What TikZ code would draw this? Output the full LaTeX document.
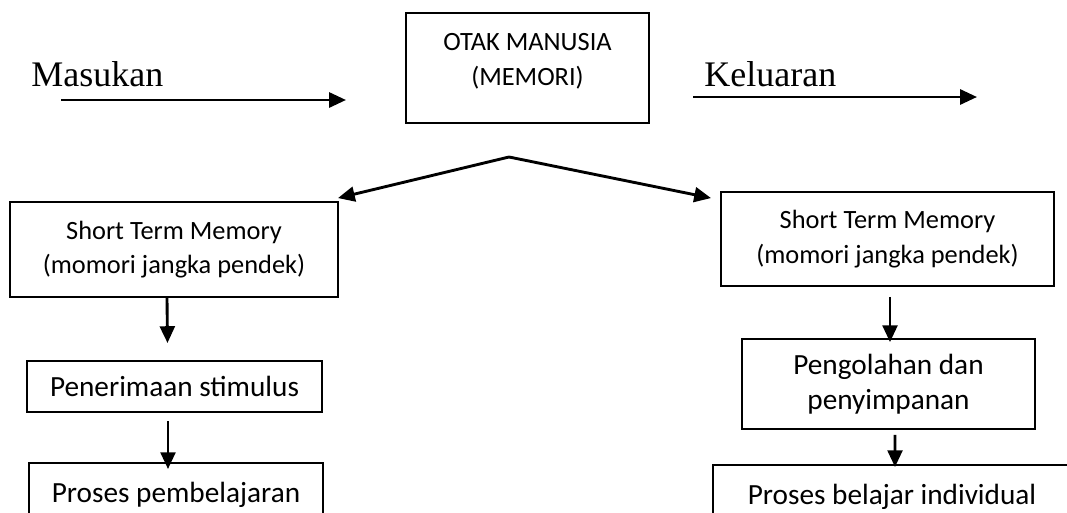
\documentclass[tikz,border=0pt]{standalone}
\usepackage{fontspec}
\setmainfont{Carlito}
\newfontfamily\timesfont{Liberation Serif}
\usetikzlibrary{arrows.meta}
\begin{document}
\begin{tikzpicture}[x=0.417pt,y=-0.417pt,
	box/.style={rectangle,draw,line width=0.8pt,align=center,inner sep=0pt},
	arr/.style={-{Triangle[length=7pt,width=6.2pt]},line width=1.2pt},
	big/.style={font=\fontsize{12.2}{14.6}\selectfont},
	small/.style={font=\fontsize{11}{14.5}\selectfont},
	word/.style={anchor=base west,inner sep=0pt,font=\timesfont\fontsize{15}{18}\selectfont}]
	\useasboundingbox (0,0) rectangle (1067,512);
	\node[word](masukan) at (31,86){Masukan};
	\node[word](keluaran) at (704,86){Keluaran};
	\coordinate(inA) at (61,100);
	\coordinate(inB) at (346,100);
	\coordinate(outA) at (693,97);
	\coordinate(outB) at (977,97);
	\coordinate(split) at (509,157);
	\node[box,small,minimum width=101.3pt,minimum height=45.9pt,text depth=7pt](otak) at (527.5,68){OTAK MANUSIA\\(MEMORI)};
	\node[box,small,minimum width=136.8pt,minimum height=39.6pt](stmL) at (174,249.5){Short Term Memory\\(momori jangka pendek)};
	\node[box,small,minimum width=138.9pt,minimum height=39.2pt](stmR) at (887.5,239){Short Term Memory\\(momori jangka pendek)};
	\node[box,big,minimum width=123pt,minimum height=21.3pt](stim) at (174.5,386.5){Penerimaan stimulus};
	\node[box,big,minimum width=122.6pt,minimum height=26.7pt](belajarL) at (176,495){Proses pembelajaran};
	\node[box,big,minimum width=122.2pt,minimum height=37.5pt](olah) at (888.5,384){Pengolahan dan\\penyimpanan};
	\node[box,big,minimum width=149.3pt,minimum height=26.7pt](belajarR) at (892,497){Proses belajar individual};
	\draw[arr](inA)--(inB);
	\draw[arr](outA)--(outB);
	\draw[arr](split)--([shift={(-1,-3)}]stmL.north east);
	\draw[arr](split)--([shift={(-9,7)}]stmR.north west);
	\draw[arr]([shift={(-7,0)}]stmL.south)--([shift={(-7,-17)}]stim.north);
	\draw[arr]([shift={(-6.5,8)}]stim.south)--([shift={(-8,7)}]belajarL.north);
	\draw[arr]([shift={(2.5,10)}]stmR.south)--([shift={(1.5,4)}]olah.north);
	\draw[arr]([shift={(6.5,5)}]olah.south)--([shift={(3,3)}]belajarR.north);
\end{tikzpicture}
\end{document}
